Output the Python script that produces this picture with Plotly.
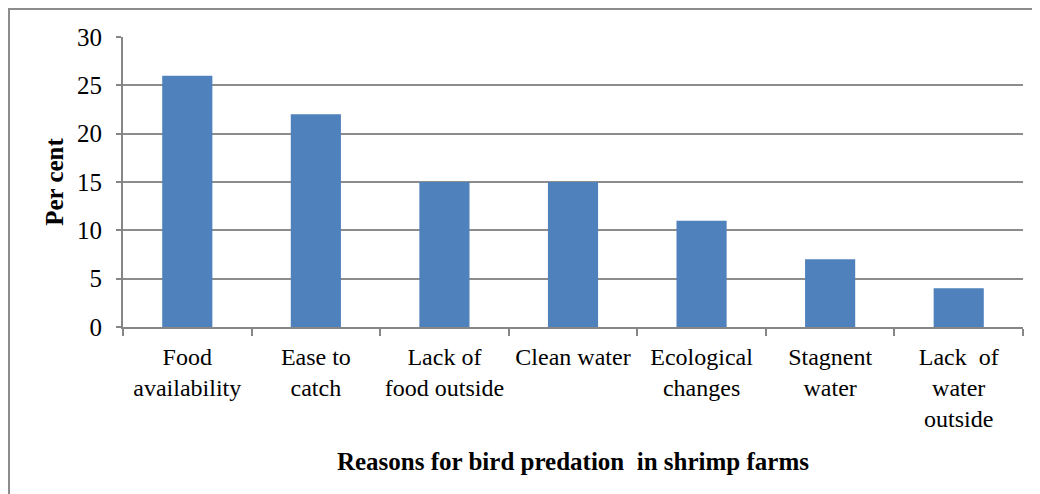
import plotly.graph_objects as go

categories = ["Food<br>availability", "Ease to<br>catch", "Lack of<br>food outside",
              "Clean water", "Ecological<br>changes", "Stagnent<br>water",
              "Lack  of<br>water<br>outside"]
values = [26, 22, 15, 15, 11, 7, 4]
y_ticks = [0, 5, 10, 15, 20, 25, 30]

# page body has an 8px margin, so the figure spans page px 8..1040 / 8..494
W, H = 1032, 486
L, R, T, B = 115, 17, 29, 167
pw, ph = W - L - R, H - T - B

font = "Liberation Serif, DejaVu Serif, serif"

fig = go.Figure(go.Bar(x=categories, y=values, marker=dict(color="#4F81BD", line=dict(width=0))))

def px_x(x):
    return (x - L) / pw

def px_y(y):
    return (H - B - y) / ph

fig.update_layout(
    width=W, height=H,
    margin=dict(l=L, r=R, t=T, b=B, autoexpand=False),
    paper_bgcolor="white", plot_bgcolor="white",
    bargap=0.61,
    showlegend=False,
    font=dict(family=font, size=24, color="black"),
    xaxis=dict(
        automargin=False,
        tickangle=0,
        showline=True, linecolor="#868686", linewidth=2,
        ticks="outside", tickson="boundaries", ticklen=7, tickcolor="#868686", tickwidth=2,
        tickfont=dict(family=font, size=24),
        ticklabelstandoff=7,
        title=dict(text="<b>Reasons for bird predation  in shrimp farms</b>",
                   font=dict(family=font, size=25), standoff=21),
    ),
    yaxis=dict(
        automargin=False,
        range=[0, 30], tickvals=y_ticks,
        showline=True, linecolor="#868686", linewidth=2,
        showgrid=True, gridcolor="#8C8C8C", gridwidth=2,
        ticks="outside", ticklen=5, tickcolor="#868686", tickwidth=2,
        tickfont=dict(family=font, size=25),
        ticklabelstandoff=9,
        title=dict(text="<b>Per cent</b>", font=dict(family=font, size=25), standoff=6),
        zeroline=False,
    ),
    shapes=[dict(type="rect", xref="paper", yref="paper",
                 x0=px_x(1), x1=px_x(1060), y0=px_y(1), y1=px_y(510),
                 line=dict(color="#8C8C8C", width=2), fillcolor="rgba(0,0,0,0)", layer="below")],
)

fig.write_html("out.html")
